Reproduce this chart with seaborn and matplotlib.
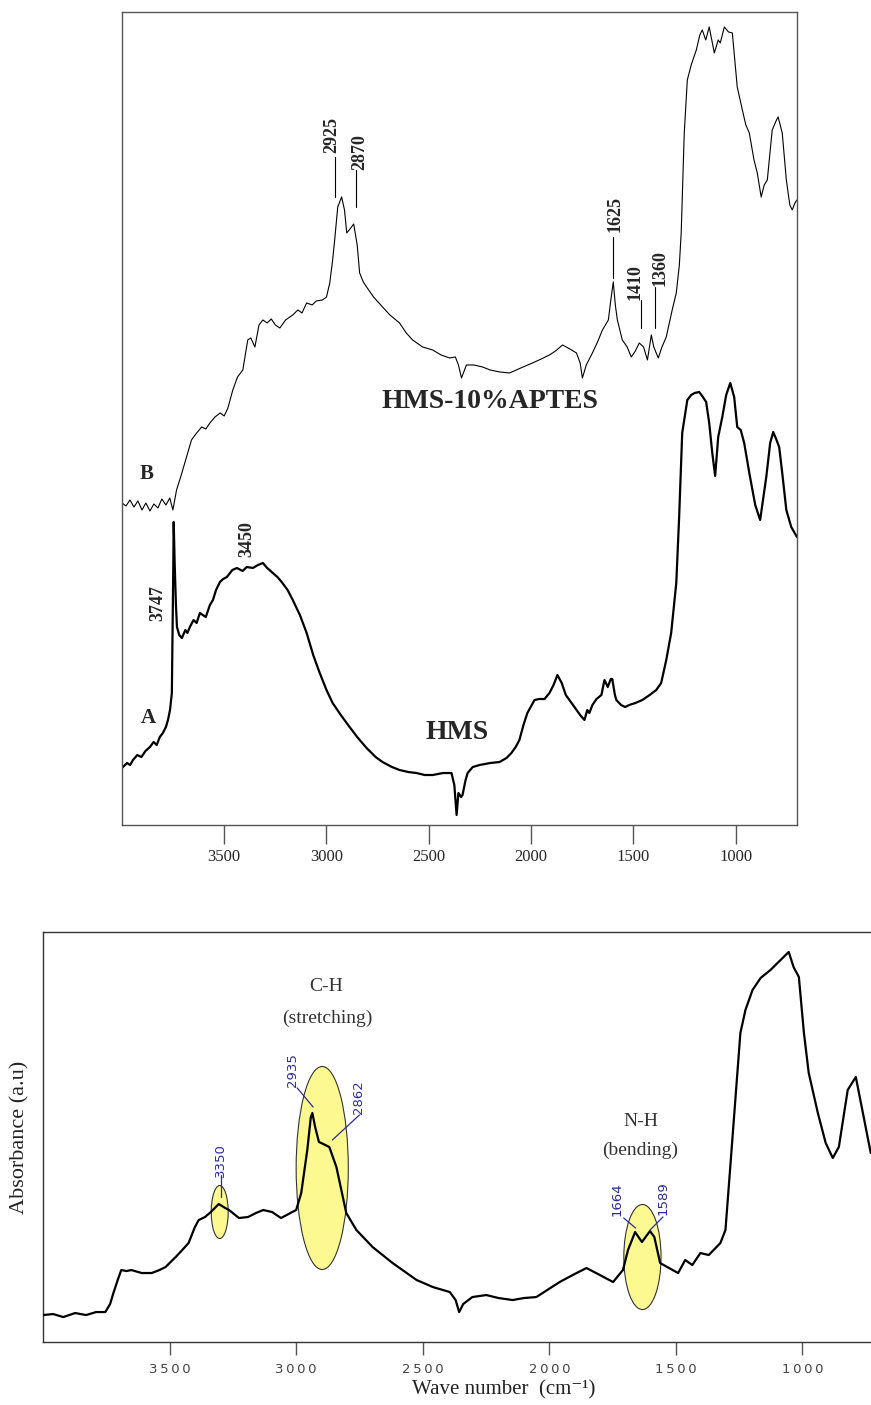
#################################################################################################
#   Required Header Files
#################################################################################################
import pandas as pd
import matplotlib
matplotlib.use("Agg")
import matplotlib.pyplot as plt
from matplotlib.patches import Ellipse
import seaborn as sns

#################################################################################################
#   Data (absorbance in arbitrary units)
#################################################################################################
# Upper panel, curve B : HMS-10%APTES
B_wave = [4000, 3980, 3961, 3941, 3922, 3902, 3883, 3863, 3844, 3824, 3805, 3785, 3766, 3751,
          3733, 3710, 3684, 3660, 3635, 3610, 3590, 3570, 3545, 3520, 3500, 3482, 3458, 3435,
          3409, 3385, 3370, 3350, 3330, 3311, 3290, 3270, 3250, 3228, 3200, 3165, 3140, 3120,
          3097, 3070, 3050, 3020, 3000, 2984, 2970, 2960, 2945, 2926, 2912, 2901, 2885, 2867,
          2850, 2838, 2820, 2804, 2770, 2726, 2690, 2643, 2610, 2579, 2530, 2481, 2440, 2398,
          2370, 2355, 2340, 2325, 2316, 2280, 2237, 2200, 2154, 2105, 2050, 1993, 1950, 1910,
          1880, 1846, 1810, 1778, 1760, 1749, 1730, 1700, 1675, 1651, 1622, 1610, 1598, 1588,
          1578, 1554, 1530, 1510, 1490, 1471, 1450, 1431, 1412, 1400, 1378, 1360, 1339, 1310,
          1290, 1275, 1266, 1251, 1236, 1217, 1192, 1175, 1163, 1146, 1129, 1104, 1085, 1075,
          1055, 1035, 1016, 992, 967, 950, 933, 910, 894, 875, 860, 845, 821, 800, 792, 772,
          752, 735, 723, 710, 700]
B_abs = [322, 319, 325, 318, 324, 315, 322, 314, 321, 317, 326, 320, 327, 315,
         335, 350, 368, 385, 392, 398, 396, 402, 408, 412, 409, 417, 435, 448,
         455, 485, 487, 478, 500, 505, 502, 506, 500, 497, 505, 510, 515, 512,
         522, 520, 524, 525, 528, 542, 565, 585, 618, 628, 615, 592, 596, 601,
         580, 552, 543, 538, 528, 518, 510, 502, 492, 485, 478, 475, 470, 467,
         468, 460, 447, 455, 460, 460, 458, 455, 453, 452, 457, 462, 466, 470,
         474, 480, 476, 472, 462, 447, 460, 472, 483, 495, 505, 525, 543, 520,
         505, 485, 478, 468, 474, 482, 478, 465, 490, 478, 467, 478, 488, 515,
         532, 560, 592, 692, 745, 760, 775, 790, 795, 785, 798, 772, 785, 782,
         798, 793, 792, 738, 715, 700, 692, 665, 652, 628, 640, 645, 695, 705, 708, 692,
         645, 620, 615, 622, 625]

# Upper panel, curve A : HMS
A_wave = [4000, 3975, 3960, 3946, 3925, 3905, 3885, 3863, 3845, 3830, 3815, 3800, 3785, 3775,
          3765, 3756, 3752, 3749, 3747, 3742, 3736, 3731, 3720, 3707, 3690, 3680, 3668, 3650,
          3635, 3619, 3605, 3590, 3570, 3555, 3540, 3521, 3505, 3487, 3460, 3438, 3410, 3390,
          3360, 3335, 3311, 3290, 3262, 3240, 3219, 3190, 3165, 3130, 3097, 3065, 3033, 3000,
          2970, 2930, 2887, 2850, 2804, 2760, 2726, 2680, 2643, 2600, 2560, 2520, 2481, 2430,
          2389, 2375, 2364, 2355, 2342, 2335, 2320, 2310, 2285, 2252, 2200, 2154, 2120, 2096,
          2075, 2057, 2037, 2018, 1983, 1960, 1934, 1910, 1890, 1871, 1850, 1830, 1788, 1760,
          1739, 1725, 1715, 1700, 1680, 1656, 1641, 1625, 1610, 1603, 1590, 1583, 1560, 1540,
          1520, 1490, 1456, 1420, 1388, 1364, 1339, 1315, 1290, 1276, 1261, 1251, 1236, 1217,
          1200, 1178, 1160, 1144, 1129, 1114, 1100, 1085, 1065, 1046, 1026, 1007, 992, 975,
          958, 933, 904, 880, 850, 831, 816, 800, 787, 772, 752, 728, 700]
A_abs = [57, 62, 60, 65, 70, 68, 74, 78, 83, 80, 88, 92, 98, 105,
         115, 132, 200, 258, 303, 260, 220, 198, 190, 187, 195, 192, 198, 205,
         202, 212, 210, 208, 220, 225, 235, 243, 246, 248, 255, 257, 254, 258,
         257, 260, 262, 257, 252, 248, 243, 235, 225, 210, 192, 170, 152, 135,
         122, 110, 98, 88, 77, 68, 63, 58, 55, 53, 52, 50, 50, 52,
         52, 40, 10, 32, 28, 30, 45, 52, 58, 60, 62, 63, 67, 72,
         78, 85, 100, 112, 125, 126, 126, 132, 140, 150, 142, 130, 118, 110,
         105, 115, 112, 120, 126, 130, 145, 138, 146, 146, 130, 125, 120, 118,
         120, 122, 125, 130, 135, 142, 165, 192, 242, 308, 392, 405, 425, 430,
         432, 433, 428, 423, 402, 372, 349, 388, 408, 430, 442, 428, 398, 395,
         382, 352, 320, 305, 348, 382, 393, 385, 378, 352, 315, 298, 288]

# Lower panel : absorbance spectrum
C_wave = [4000, 3960, 3920, 3873, 3830, 3790, 3754, 3735, 3722, 3705, 3691, 3670, 3651, 3610,
          3571, 3540, 3516, 3476, 3450, 3425, 3400, 3385, 3360, 3337, 3306, 3280, 3265, 3226,
          3190, 3159, 3130, 3095, 3060, 3030, 3000, 2980, 2956, 2942, 2936, 2925, 2910, 2901,
          2885, 2869, 2841, 2802, 2762, 2698, 2619, 2524, 2460, 2393, 2370, 2356, 2340, 2304,
          2249, 2200, 2145, 2100, 2051, 1959, 1900, 1853, 1800, 1748, 1709, 1689, 1661, 1634,
          1602, 1585, 1562, 1534, 1491, 1463, 1435, 1403, 1370, 1324, 1304, 1285, 1265, 1245,
          1225, 1197, 1165, 1126, 1086, 1054, 1035, 1014, 994, 975, 939, 908, 880, 856,
          821, 789, 761, 730]
C_abs = [27, 28, 25, 29, 27, 30, 30, 38, 49, 62, 72, 71, 72, 69,
         69, 72, 75, 85, 92, 99, 115, 122, 125, 130, 138, 134, 132, 124,
         125, 129, 132, 130, 124, 128, 132, 149, 192, 225, 229, 215, 200, 199,
         197, 195, 175, 129, 112, 95, 79, 62, 55, 50, 42, 30, 38, 45,
         47, 44, 42, 44, 45, 60, 68, 74, 67, 60, 72, 92, 110, 100,
         111, 105, 79, 75, 69, 82, 77, 89, 87, 99, 112, 175, 242, 309,
         332, 352, 364, 372, 382, 390, 375, 365, 309, 269, 229, 199, 184, 195,
         252, 265, 229, 189]

# Peak labels
Top_marks = ["2925", "2870", "1625", "1410", "1360"]
Low_marks = ["3350", "2935", "2862", "1664", "1589"]
Ticks = [3500, 3000, 2500, 2000, 1500, 1000]

#################################################################################################
#   Entry Point Function
#################################################################################################
def main():
    sns.set_style("white")
    plt.rcParams['font.family'] = ['Liberation Serif', 'DejaVu Serif']

    fig = plt.figure(figsize=(8.71, 14.05), dpi=100)

    #############################################################################################
    #   Upper panel
    #############################################################################################
    ax = fig.add_axes([0.140, 0.4128, 0.775, 0.5787])
    dfB = pd.DataFrame({"wave": B_wave, "abs": B_abs})
    dfA = pd.DataFrame({"wave": A_wave, "abs": A_abs})
    sns.lineplot(data=dfB, x="wave", y="abs", color="black", lw=0.8, sort=False, ax=ax)
    sns.lineplot(data=dfA, x="wave", y="abs", color="black", lw=1.6, sort=False, ax=ax)
    ax.set_xlim(4000, 700)
    ax.set_ylim(0, 813)
    ax.set_xticks(Ticks)
    ax.set_yticks([])
    ax.set_xlabel("")
    ax.set_ylabel("")
    for s in ax.spines.values():
        s.set_color("#555555")
        s.set_linewidth(1.0)
    ax.tick_params(axis="x", direction="out", length=14, width=1.0, color="#555555",
                   labelsize=12, pad=3, bottom=True)

    # leader lines + rotated labels
    lines = [(2960, 668, 628), (2857, 655, 618), (1598, 588, 547), (1462, 525, 497), (1394, 538, 497)]
    spots = [(2976, 690), (2838, 673), (1590, 611), (1492, 543), (1368, 557)]
    for lab, (lx, y0, y1), (tx, ty) in zip(Top_marks, lines, spots):
        ax.plot([lx, lx], [y0, y1], color="black", lw=0.8)
        ax.text(tx, ty, lab, rotation=90, ha="center", va="center", fontsize=13, fontweight="bold")
    ax.text(3824, 222, "3747", rotation=90, ha="center", va="center", fontsize=13, fontweight="bold")
    ax.text(3390, 286, "3450", rotation=90, ha="center", va="center", fontsize=13, fontweight="bold")
    ax.text(3878, 351, "B", ha="center", va="center", fontsize=15, fontweight="bold")
    ax.text(3873, 107, "A", ha="center", va="center", fontsize=15, fontweight="bold")
    ax.text(2203, 423, "HMS-10%APTES", ha="center", va="center", fontsize=20, fontweight="bold")
    ax.text(2364, 93, "HMS", ha="center", va="center", fontsize=20, fontweight="bold")

    #############################################################################################
    #   Lower panel
    #############################################################################################
    bx = fig.add_axes([0.0494, 0.0448, 0.9506, 0.2919])
    ells = [(3302, 130, 67, 53), (2897, 174, 206, 203), (1632, 85, 147, 105)]
    for cx, cy, w, h in ells:
        bx.add_patch(Ellipse((cx, cy), w, h, facecolor="#fbf98f", edgecolor="#333333",
                             lw=0.8, zorder=1))
    dfC = pd.DataFrame({"wave": C_wave, "abs": C_abs})
    sns.lineplot(data=dfC, x="wave", y="abs", color="black", lw=1.6, sort=False, ax=bx, zorder=3)
    bx.set_xlim(4000, 729)
    bx.set_ylim(0, 410)
    bx.set_xticks(Ticks)
    bx.set_xticklabels(["\u2009".join(str(t)) for t in Ticks], family="DejaVu Sans",
                       fontsize=9.5, color="#444444")
    bx.set_yticks([])
    bx.spines["right"].set_visible(False)
    for k in ["left", "top", "bottom"]:
        bx.spines[k].set_color("#333333")
        bx.spines[k].set_linewidth(1.0)
    bx.tick_params(axis="x", direction="out", length=9, width=1.0, color="#555555", pad=6,
                   bottom=True)
    bx.set_xlabel("Wave number  (cm\u207b\u00b9)", fontsize=15, color="#222222")
    bx.xaxis.label.set_verticalalignment("center")
    bx.xaxis.set_label_coords(0.556, -0.117)
    bx.set_ylabel("Absorbance (a.u)", fontsize=16, color="#222222")
    bx.yaxis.set_label_coords(-0.016, 0.5)

    bx.text(2881, 355, "C-H", ha="center", va="center", fontsize=14, color="#333333")
    bx.text(2877, 324, "(stretching)", ha="center", va="center", fontsize=14, color="#333333")
    bx.text(1639, 220, "N-H", ha="center", va="center", fontsize=14, color="#333333")
    bx.text(1643, 192, "(bending)", ha="center", va="center", fontsize=14, color="#333333")

    blue = "#2b2b9e"
    leads = [((3298, 167), (3298, 145)), ((2996, 254), (2933, 235)), ((2750, 227), (2857, 202)),
             ((1706, 124), (1659, 114)), ((1551, 125), (1602, 112))]
    spots = [(3298, 182), (3016, 272), (2754, 245), (1734, 143), (1551, 144)]
    for lab, (p0, p1), (tx, ty) in zip(Low_marks, leads, spots):
        bx.plot([p0[0], p1[0]], [p0[1], p1[1]], color=blue, lw=0.9, zorder=4)
        bx.text(tx, ty, lab, rotation=90, ha="center", va="center", fontsize=9.5,
                color=blue, family="DejaVu Sans", zorder=4)

    fig.savefig("out.png", dpi=100)

#################################################################################################
#   Starter
#################################################################################################
if __name__ == "__main__":
    main()
